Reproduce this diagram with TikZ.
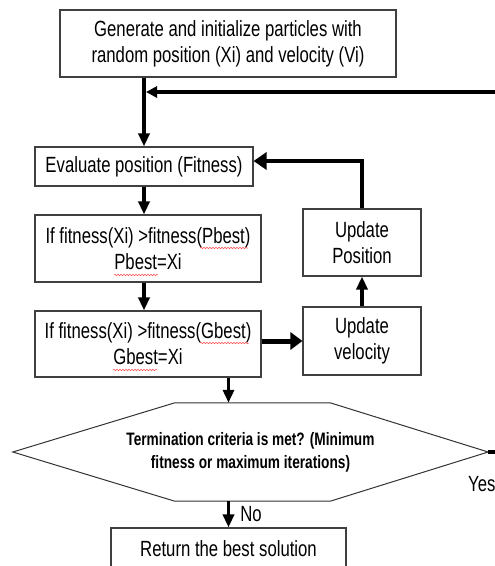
\documentclass[tikz,border=0pt]{standalone}
\usepackage{fontspec}
\setmainfont{Liberation Sans}[FakeStretch=0.76]
\usetikzlibrary{arrows.meta,decorations.pathmorphing,calc}
\begin{document}
\begin{tikzpicture}[x=1pt,y=-1pt,
  box/.style={draw=black!75, line width=1.1pt, align=center, inner sep=0pt,
    font=\fontsize{22}{26}\selectfont},
  lbl/.style={inner sep=0pt, font=\fontsize{22}{26}\selectfont},
  arr/.style={line width=3.5pt, -{Triangle[length=13pt,width=11pt]}},
  bigarr/.style={line width=5pt, -{Triangle[length=12pt,width=17pt]}},
  hexline/.style={draw=black!80, line width=1pt, line join=miter},
  squig/.style={red!70, line width=0.5pt, decorate,
    decoration={snake, amplitude=0.8pt, segment length=3pt}}]
\useasboundingbox (0,0) rectangle (495,566);
\clip (0,0) rectangle (495,566);

\node[box, minimum width=336pt, minimum height=67pt] (init) at (228,43.5)
  {Generate and initialize particles with\\random position (Xi) and velocity (Vi)};
\node[box, minimum width=218pt, minimum height=39pt] (eval) at (144,166.5)
  {Evaluate position (Fitness)};
\node[box, minimum width=226pt, minimum height=67pt] (pbest) at (148,248.5)
  {If fitness(Xi) >fitness(Pbest)\\Pbest=Xi};
\node[box, minimum width=226pt, minimum height=66pt] (gbest) at (148,344)
  {If fitness(Xi) >fitness(Gbest)\\Gbest=Xi};
\node[box, minimum width=118pt, minimum height=68pt] (vel) at (362,341)
  {Update\\velocity};
\node[box, minimum width=118pt, minimum height=67pt] (pos) at (362,242.5)
  {Update\\Position};
\node[minimum width=475pt, minimum height=98pt, inner sep=0pt, align=center,
  font=\bfseries\fontsize{18}{23}\selectfont] (term) at (250.5,452)
  {Termination criteria is met? (Minimum\\fitness or maximum  iterations)};
\draw[hexline] (term.west) -- ([xshift=162pt]term.north west)
  -- ([xshift=-158pt]term.north east) -- (term.east)
  -- ([xshift=-158pt]term.south east) -- ([xshift=162pt]term.south west) -- cycle;
\node[box, minimum width=235pt, minimum height=42pt] (ret) at (228.5,549)
  {Return the best solution};

% spell-check squiggles
\draw[squig] (200,248) -- (248,248);
\draw[squig] (114,275) -- (158,275);
\draw[squig] (200,343) -- (249,343);
\draw[squig] (113,370) -- (157,370);

% connectors
\draw[arr] (init.south -| eval.north) -- (eval.north);
\draw[arr] (eval.south) -- (eval.south |- pbest.north);
\draw[arr] (pbest.south -| eval.south) -- (eval.south |- gbest.north);
\draw[arr] (gbest.south -| ret.north) -- (ret.north |- term.north);
\draw[arr] (ret.north |- term.south) -- (ret.north)
  node[lbl, pos=0.5, anchor=west, xshift=10pt] (no) {No};
\draw[bigarr] (vel.west -| gbest.east) -- (vel.west);
\draw[arr] (vel.north) -- (pos.south);
\draw[line width=4.5pt, -{Triangle[length=13pt,width=17pt]}]
  (pos.north) |- ([yshift=5.5pt]eval.east);

\coordinate (farR) at (530,452);
\coordinate (farT) at (530,92);
\draw[line width=4pt, -{Triangle[length=11pt,width=11pt]}]
  (term.east) -- (farR) -- (farT) -- ($(eval.north |- farT)+(2,0)$);

\node[lbl, anchor=west] (yes) at (468,484.5) {Yes};
\end{tikzpicture}
\end{document}
